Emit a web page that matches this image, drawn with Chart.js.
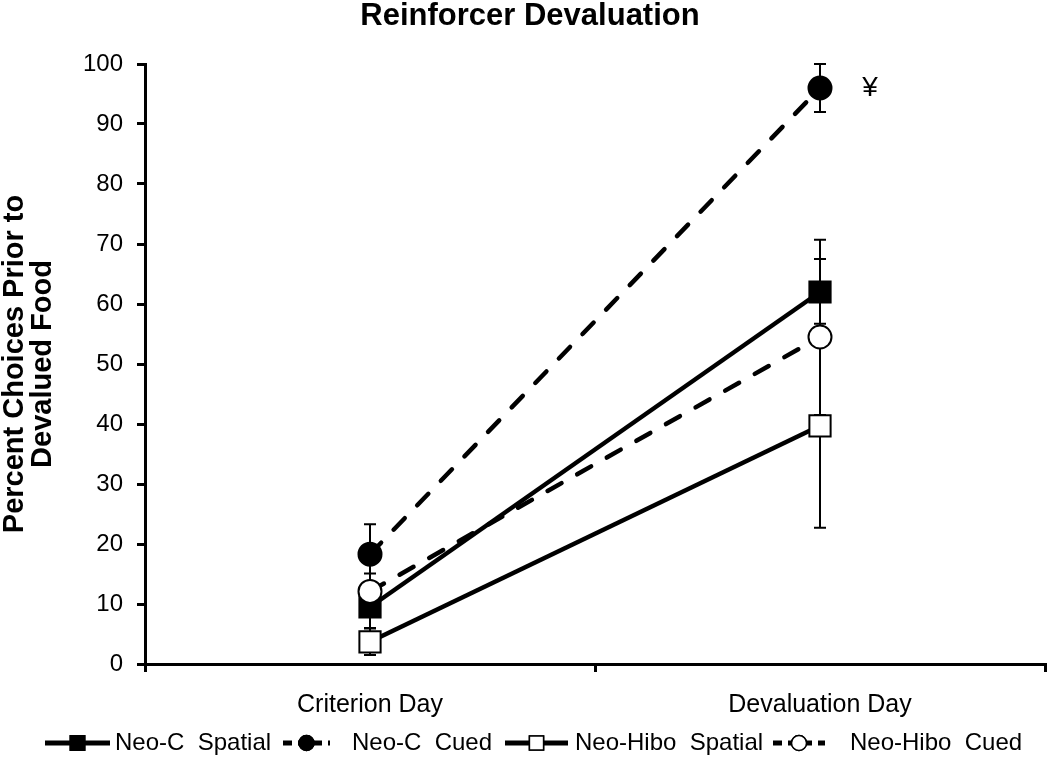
<!DOCTYPE html>
<html>
<head>
<meta charset="utf-8">
<script src="https://cdn.jsdelivr.net/npm/chart.js@4.4.1/dist/chart.umd.min.js"></script>
<style>
  html, body { margin: 0; padding: 0; background: #fff; overflow: hidden; }
  #wrap { width: 1050px; height: 757px; }
  canvas { display: block; }
</style>
</head>
<body>
<div id="wrap"><canvas id="chartContainer" width="1050" height="757"></canvas></div>
<script>
// data
var categories = ['Criterion Day', 'Devaluation Day'];
var seriesNames = ['Neo-C  Spatial', 'Neo-C  Cued', 'Neo-Hibo  Spatial', 'Neo-Hibo  Cued'];
var neoCSpatial = [9.5, 62.0];
var neoCCued = [18.3, 96.0];
var neoHiboSpatial = [3.7, 39.7];
var neoHiboCued = [12.1, 54.5];
// +/- error (SEM)
var neoCSpatialErr = [3.5, 8.7];
var neoCCuedErr = [5.0, 4.0];
var neoHiboSpatialErr = [2.2, 17.0];
var neoHiboCuedErr = [3.0, 13.0];
var yMin = 0, yMax = 100, yStep = 10;
var titleText = 'Reinforcer Devaluation';
var yTitle = ['Percent Choices Prior to', 'Devalued Food'];
var sigMark = '\u00a5';   // significance mark next to Neo-C Cued on devaluation day

var FONT = "'Liberation Sans', Arial, sans-serif";

function makeSet(i, data, err, dashed, style, filled, radius, order) {
    return {
        label: seriesNames[i],
        data: data,
        errors: err,
        borderColor: '#000',
        borderWidth: 4.5,
        borderDash: dashed ? [16, 18] : [],
        borderCapStyle: dashed ? 'round' : 'butt',
        pointStyle: style,
        pointRadius: radius,
        pointHoverRadius: radius,
        pointBackgroundColor: filled ? '#000' : '#fff',
        pointBorderColor: '#000',
        pointBorderWidth: 2,
        tension: 0,
        fill: false,
        order: order
    };
}

// error bars, drawn under the markers
var errorBars = {
    id: 'errorBars',
    beforeDatasetsDraw: function (chart) {
        var ctx = chart.ctx, y = chart.scales.y;
        ctx.save();
        ctx.strokeStyle = '#000';
        ctx.lineWidth = 2;
        chart.data.datasets.forEach(function (ds, i) {
            var meta = chart.getDatasetMeta(i);
            meta.data.forEach(function (pt, j) {
                var e = ds.errors[j], v = ds.data[j];
                var top = y.getPixelForValue(v + e), bot = y.getPixelForValue(v - e);
                ctx.beginPath();
                ctx.moveTo(pt.x, top); ctx.lineTo(pt.x, bot);
                ctx.moveTo(pt.x - 6, top); ctx.lineTo(pt.x + 6, top);
                ctx.moveTo(pt.x - 6, bot); ctx.lineTo(pt.x + 6, bot);
                ctx.stroke();
            });
        });
        ctx.restore();
    }
};

// title, significance mark and the line+marker legend
var extras = {
    id: 'extras',
    afterDraw: function (chart) {
        var ctx = chart.ctx;
        ctx.save();
        ctx.fillStyle = '#000';
        ctx.textBaseline = 'middle';

        ctx.font = 'bold 31px ' + FONT;
        ctx.textAlign = 'center';
        ctx.fillText(titleText, 530, 16);

        var pt = chart.getDatasetMeta(1).data[1];
        ctx.font = '28px ' + FONT;
        ctx.fillText(sigMark, pt.x + 50, chart.scales.y.getPixelForValue(neoCCued[1]));

        var legendY = 743;
        var lineX = [45, 283, 505, 773];
        var lens = [65, 47, 63, 52];
        var textX = [115, 352, 575, 850];
        ctx.font = '24px ' + FONT;
        ctx.textAlign = 'left';
        chart.data.datasets.forEach(function (ds, i) {
            var x = lineX[i];
            ctx.save();
            ctx.strokeStyle = '#000';
            ctx.lineWidth = 5;
            ctx.setLineDash(ds.borderDash.length ? [9, 6] : []);
            ctx.beginPath();
            ctx.moveTo(x, legendY); ctx.lineTo(x + lens[i], legendY);
            ctx.stroke();
            ctx.restore();
            var mx = x + lens[i] / 2;
            Chart.helpers.drawPoint(ctx, {
                pointStyle: ds.pointStyle,
                radius: ds.pointStyle === 'rect' ? 10 : 7.5,
                borderWidth: 1.5
            }, mx, legendY);
            ctx.fillStyle = ds.pointBackgroundColor;
            ctx.strokeStyle = '#000';
            ctx.lineWidth = 1.5;
            ctx.fill(); ctx.stroke();
            ctx.fillStyle = '#000';
            ctx.fillText(ds.label, textX[i], legendY);
        });
        ctx.restore();
    }
};

var ctx = document.getElementById('chartContainer').getContext('2d');
var chart = new Chart(ctx, {
    type: 'line',
    data: {
        labels: categories,
        datasets: [
            makeSet(0, neoCSpatial, neoCSpatialErr, false, 'rect', true, 15, 4),
            makeSet(1, neoCCued, neoCCuedErr, true, 'circle', true, 11.5, 3),
            makeSet(2, neoHiboSpatial, neoHiboSpatialErr, false, 'rect', false, 15, 2),
            makeSet(3, neoHiboCued, neoHiboCuedErr, true, 'circle', false, 11.5, 1)
        ]
    },
    options: {
        responsive: false,
        animation: false,
        clip: false,
        layout: { autoPadding: false, padding: { top: 64, right: 5, left: 0, bottom: 0 } },
        plugins: {
            legend: { display: false },
            title: { display: false },
            tooltip: { enabled: false }
        },
        scales: {
            x: {
                type: 'category',
                offset: true,
                grid: { offset: true, drawOnChartArea: false, drawTicks: true, tickLength: 8, color: '#000', lineWidth: 3 },
                border: { display: true, color: '#000', width: 3 },
                ticks: { color: '#000', font: { family: FONT, size: 25 }, padding: 18 },
                afterFit: function (s) { s.height = 93; s.paddingLeft = 0; s.paddingRight = 0; }
            },
            y: {
                min: yMin,
                max: yMax,
                grid: { drawOnChartArea: false, drawTicks: true, tickLength: 8, color: '#000', lineWidth: 3 },
                border: { display: true, color: '#000', width: 3 },
                ticks: { stepSize: yStep, color: '#000', font: { family: FONT, size: 24 }, padding: 14 },
                title: {
                    display: true,
                    text: yTitle,
                    color: '#000',
                    font: { family: FONT, size: 29, weight: 'bold', lineHeight: 0.97 },
                    padding: { top: 1, bottom: 0 }
                },
                afterFit: function (s) { s.width = 145; }
            }
        }
    },
    plugins: [errorBars, extras]
});
</script>
</body>
</html>
